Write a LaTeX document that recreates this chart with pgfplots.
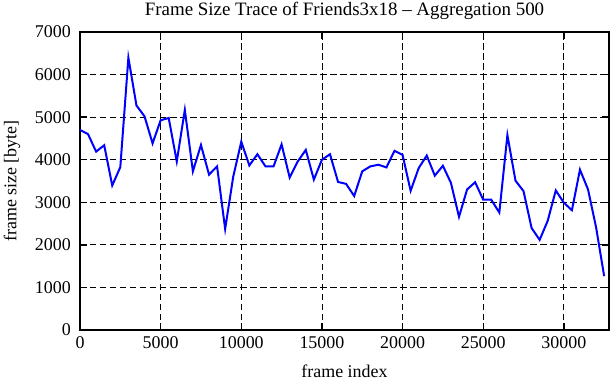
\documentclass[border=0pt]{standalone}
\usepackage{fontspec}
\setmainfont{Liberation Serif}
\usepackage{pgfplots}
\pgfplotsset{compat=1.18}
\begin{document}
\fontsize{18}{20}\selectfont
\begin{tikzpicture}
\begin{axis}[
  scale only axis,
  width=529bp, height=298bp,
  xmin=0, xmax=32800, ymin=0, ymax=7000,
  xtick={0,5000,...,30000}, ytick={0,1000,...,7000},
  scaled ticks=false,
  /pgf/number format/assume math mode=true,
  /pgf/number format/set thousands separator={},
  tick label style={font=\fontsize{18}{20}\selectfont},
  xticklabel style={anchor=base, yshift=-18bp},
  yticklabel style={xshift=-3bp},
  title={Frame Size Trace of Friends3x18 -- Aggregation 500},
  title style={font=\fontsize{19}{21}\selectfont, at={(axis description cs:0.5,1)}, anchor=base, yshift=11bp},
  xlabel={frame index}, ylabel={frame size [byte]},
  xlabel style={font=\fontsize{18}{20}\selectfont, at={(axis description cs:0.5,0)}, anchor=base, yshift=-47bp},
  ylabel style={font=\fontsize{18}{20}\selectfont, at={(axis description cs:0,0.5)}, anchor=center, yshift=68bp},
  grid=major,
  major grid style={black, line width=0.8bp, dash pattern=on 6.5bp off 3.5bp},
  axis line style={black, line width=2bp},
  tick style={black, line width=1.4bp},
  major tick length=7bp,
  tick align=inside,
  xtick pos=both, ytick pos=both,
]
\addplot[color={rgb,255:red,0;green,0;blue,255}, line width=2bp, mark=none] coordinates {
(0,4700) (500,4600) (1000,4190) (1500,4340) (2000,3395) (2500,3826)
(3000,6397) (3500,5275) (4000,5020) (4500,4384) (5000,4927) (5500,4980)
(6000,3959) (6500,5170) (7000,3727) (7500,4346) (8000,3650) (8500,3843)
(9000,2373) (9500,3600) (10000,4423) (10500,3866) (11000,4129) (11500,3843)
(12000,3843) (12500,4361) (13000,3580) (13500,3959) (14000,4230) (14500,3533)
(15000,3998) (15500,4129) (16000,3478) (16500,3432) (17000,3146) (17500,3727)
(18000,3843) (18500,3882) (19000,3819) (19500,4210) (20000,4114) (20500,3270)
(21000,3803) (21500,4098) (22000,3626) (22500,3858) (23000,3455) (23500,2658)
(24000,3301) (24500,3471) (25000,3060) (25500,3060) (26000,2758) (26500,4578)
(27000,3510) (27500,3262) (28000,2396) (28500,2117) (29000,2566) (29500,3278)
(30000,2991) (30500,2813) (31000,3766) (31500,3301) (32000,2410) (32500,1265)
};
\end{axis}
\pgfresetboundingbox
\path[use as bounding box] ([xshift=-80bp,yshift=-50bp]current axis.south west) rectangle ([xshift=2bp,yshift=32bp]current axis.north east);
\end{tikzpicture}
\end{document}
